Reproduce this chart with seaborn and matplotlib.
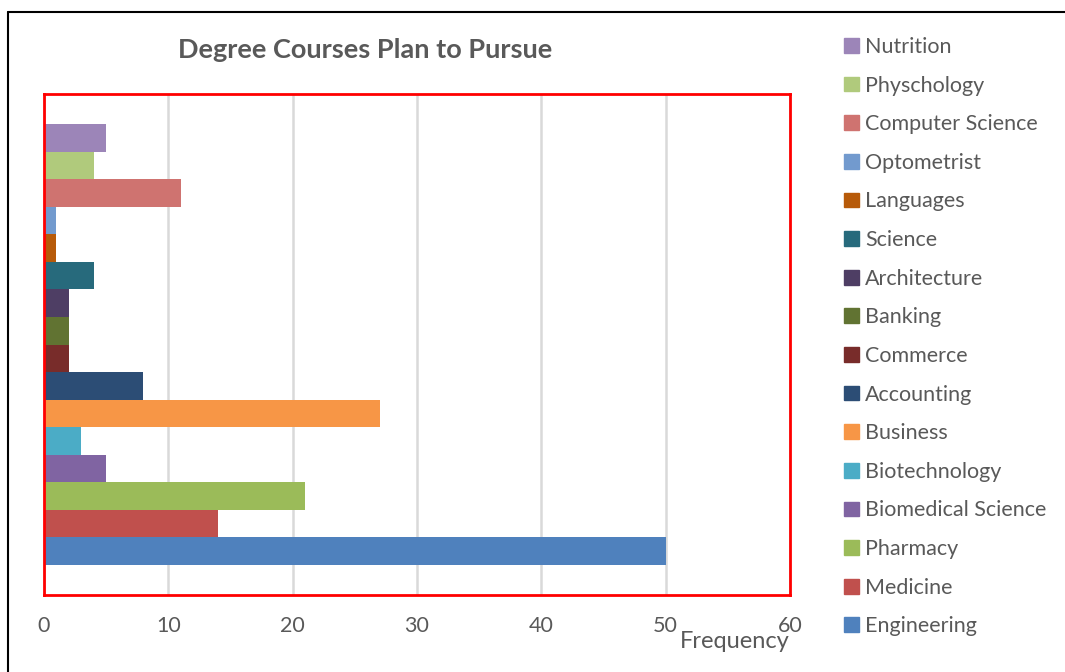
import matplotlib
matplotlib.use("Agg")
import matplotlib.pyplot as plt
from matplotlib.lines import Line2D
import seaborn as sns
import pandas as pd

# Degree courses, listed top to bottom as drawn
courses = [
    "Nutrition", "Physchology", "Computer Science", "Optometrist", "Languages",
    "Science", "Architecture", "Banking", "Commerce", "Accounting", "Business",
    "Biotechnology", "Biomedical Science", "Pharmacy", "Medicine", "Engineering",
]
frequency = [5, 4, 11, 1, 1, 4, 2, 2, 2, 8, 27, 3, 5, 21, 14, 50]
colors = [
    "#9C85B8", "#B0CA7C", "#CF7370", "#729ACE", "#B75A09", "#276A7C",
    "#4E3E64", "#617332", "#782C2A", "#2C4D75", "#F79646", "#4BACC6",
    "#8064A2", "#9BBB59", "#C0504D", "#4F81BD",
]
x_ticks = [0, 10, 20, 30, 40, 50, 60]

sns.set_theme(style="white")
plt.rcParams["font.family"] = ["Lato", "DejaVu Sans"]
TEXT = "#595959"

df = pd.DataFrame({"course": courses, "frequency": frequency})

W, H = 1065, 672
fig = plt.figure(figsize=(W / 100, H / 100), dpi=100)
ax = fig.add_axes([44 / W, 1 - 595 / H, (790 - 44) / W, (595 - 94) / H])

sns.barplot(
    data=df, y="course", x="frequency", hue="course",
    order=courses, hue_order=courses, palette=colors,
    width=1.0, dodge=False, saturation=1, legend=False, ax=ax,
    linewidth=0, edgecolor="none",
)

ax.set_xlim(0, 60)
ax.set_ylim(15.5 + 1.09, -0.5 - 1.09)
ax.set_xticks(x_ticks)
ax.set_xticklabels([str(t) for t in x_ticks], fontsize=15.5, color=TEXT)
ax.set_yticks([])
ax.set_xlabel("")
ax.set_ylabel("")
ax.tick_params(axis="x", length=0, pad=15)
ax.xaxis.grid(True, color="#D9D9D9", linewidth=1.8)
ax.set_axisbelow(True)
for s in ax.spines.values():
    s.set_visible(True)
    s.set_color("#FF0000")
    s.set_linewidth(2)
    s.set_zorder(5)

fig.text(365 / W, 1 - 50 / H, "Degree Courses Plan to Pursue", ha="center",
         va="center", fontsize=19.5, fontweight="bold", color=TEXT)
fig.text(735 / W, 1 - 642 / H, "Frequency", ha="center", va="center",
         fontsize=17, color=TEXT)

# Legend in the same top-to-bottom order
handles = [plt.Rectangle((0, 0), 1, 1, color=c) for c in colors]
leg = fig.legend(
    handles, courses, loc="upper left",
    bbox_to_anchor=(844 / W, 1 - 37 / H), frameon=False,
    fontsize=15.5, labelcolor=TEXT, handlelength=0.68, handleheight=0.68,
    handletextpad=0.3, labelspacing=0.865, borderpad=0, borderaxespad=0,
)

# Outer chart frame (top and left edges)
fig.add_artist(Line2D([8 / W, 1], [1 - 12 / H, 1 - 12 / H], color="black", linewidth=1.5))
fig.add_artist(Line2D([8 / W, 8 / W], [0, 1 - 12 / H], color="black", linewidth=1.5))

fig.savefig("out.png", dpi=100)
